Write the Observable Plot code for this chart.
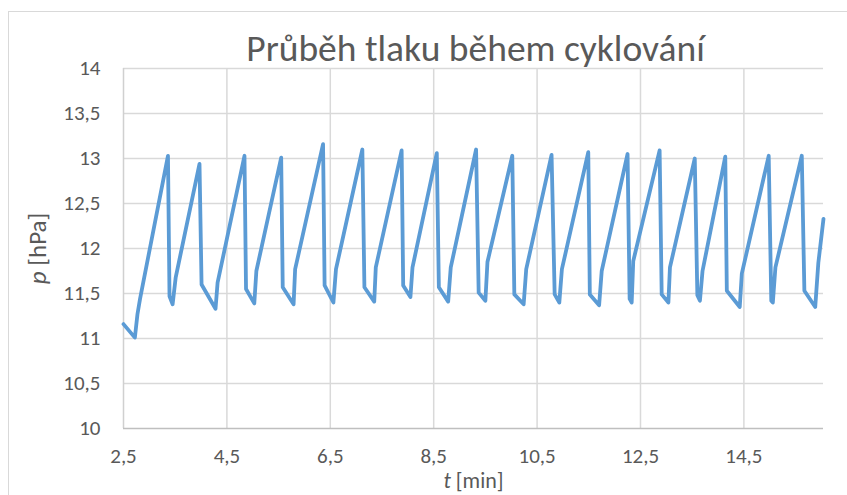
<!DOCTYPE html>
<html>
<head>
<meta charset="utf-8">
<script src="https://cdn.jsdelivr.net/npm/d3@7"></script>
<script src="https://cdn.jsdelivr.net/npm/@observablehq/plot@0.6"></script>
<style>
  html, body { margin: 0; padding: 0; background: #fff; }
  #wrap { position: relative; width: 847px; height: 495px; overflow: hidden; }
  #border { position: absolute; left: 8px; top: 11px; width: 900px; height: 600px; border: 1px solid #d9d9d9; box-sizing: border-box; }
  #chart { position: absolute; left: 0; top: 0; }
</style>
</head>
<body>
<div id="wrap"><div id="border"></div><div id="chart"></div></div>
<script>
const title = "Průběh tlaku během cyklování";
const xLabel = "t [min]";
const yLabel = "p [hPa]";
const xTicks = [2.5, 4.5, 6.5, 8.5, 10.5, 12.5, 14.5];
const yTicks = [10, 10.5, 11, 11.5, 12, 12.5, 13, 13.5, 14];

const time = [
  2.50, 2.72, 2.77, 2.82, 3.36, 3.39, 3.45, 3.51, 3.97, 4.01,
  4.28, 4.32, 4.84, 4.87, 5.03, 5.07, 5.55, 5.58, 5.79, 5.82,
  6.36, 6.39, 6.56, 6.61, 7.12, 7.16, 7.35, 7.38, 7.88, 7.91,
  8.05, 8.09, 8.56, 8.60, 8.78, 8.83, 9.32, 9.37, 9.50, 9.54,
  10.02, 10.06, 10.24, 10.29, 10.78, 10.84, 10.93, 10.98, 11.49, 11.52,
  11.70, 11.75, 12.25, 12.29, 12.33, 12.36, 12.87, 12.91, 13.04, 13.07,
  13.55, 13.60, 13.65, 13.70, 14.14, 14.17, 14.42, 14.46, 14.98, 15.03,
  15.06, 15.11, 15.62, 15.67, 15.88, 15.94, 16.04
];
const pressure = [
  11.16, 11.01, 11.27, 11.44, 13.03, 11.47, 11.38, 11.68, 12.94, 11.60,
  11.33, 11.62, 13.03, 11.55, 11.39, 11.75, 13.01, 11.57, 11.38, 11.77,
  13.16, 11.59, 11.40, 11.77, 13.10, 11.57, 11.41, 11.79, 13.09, 11.59,
  11.46, 11.79, 13.06, 11.57, 11.41, 11.79, 13.10, 11.51, 11.42, 11.85,
  13.03, 11.49, 11.38, 11.77, 13.04, 11.49, 11.40, 11.77, 13.07, 11.49,
  11.37, 11.75, 13.05, 11.44, 11.40, 11.86, 13.09, 11.49, 11.40, 11.79,
  13.00, 11.48, 11.42, 11.75, 13.02, 11.53, 11.35, 11.72, 13.03, 11.42,
  11.40, 11.79, 13.03, 11.53, 11.35, 11.84, 12.33
];

const data = time.map((t, i) => ({t, p: pressure[i]}));
const fmt = d => String(d).replace(".", ",");
const font = "Calibri, Carlito, 'Open Sans', sans-serif";
const grey = "#595959";

const chart = Plot.plot({
  width: 847,
  height: 495,
  marginLeft: 123,
  marginRight: 24,
  marginTop: 68,
  marginBottom: 67,
  style: {fontFamily: font, fontSize: "21px", color: grey, background: "transparent", overflow: "visible"},
  x: {domain: [2.5, 16.04], ticks: xTicks, tickFormat: fmt, tickSize: 0, tickPadding: 20, label: null},
  y: {domain: [10, 14], ticks: yTicks, tickFormat: fmt, tickSize: 0, tickPadding: 23, label: null},
  marks: [
    Plot.ruleY(yTicks.slice(1), {y: d => d, stroke: "#d9d9d9", strokeWidth: 1.5}),
    Plot.ruleX(xTicks.slice(1), {x: d => d, stroke: "#d9d9d9", strokeWidth: 1.5}),
    Plot.ruleX([2.5], {x: d => d, stroke: "#d0d0d0", strokeWidth: 1.5}),
    Plot.ruleY([10], {y: d => d, stroke: "#bfbfbf", strokeWidth: 1.5}),
    Plot.line(data, {x: "t", y: "p", stroke: "#5b9bd5", strokeWidth: 3.8, strokeLinejoin: "round", strokeLinecap: "round"}),
    Plot.text([title], {frameAnchor: "top", dy: -20, dx: 2, lineAnchor: "middle", textAnchor: "middle", fontSize: 37.5, fill: grey, fontFamily: font}),
    Plot.text([xLabel], {frameAnchor: "bottom", dy: 52, lineAnchor: "middle", textAnchor: "middle", fontSize: 22, fill: grey, fontFamily: font}),
    Plot.text([yLabel], {frameAnchor: "left", dx: -86, lineAnchor: "middle", textAnchor: "middle", rotate: -90, fontSize: 25, fill: grey, fontFamily: font})
  ]
});

// italic variable symbols in the axis titles
chart.querySelectorAll("text").forEach(el => {
  const s = el.textContent;
  if (s === xLabel || s === yLabel) {
    const v = s.charAt(0);
    el.textContent = "";
    const ts = document.createElementNS("http://www.w3.org/2000/svg", "tspan");
    ts.setAttribute("font-style", "italic");
    ts.textContent = v;
    el.appendChild(ts);
    el.appendChild(document.createTextNode(s.slice(1)));
  }
});

document.getElementById("chart").appendChild(chart);
</script>
</body>
</html>
